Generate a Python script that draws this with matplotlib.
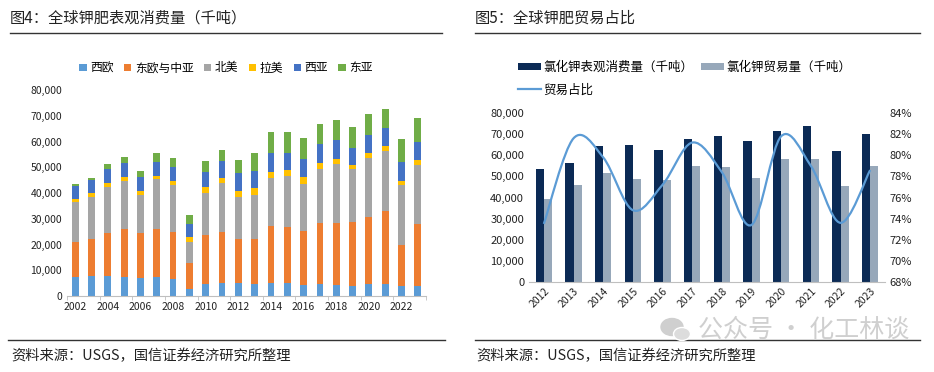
import numpy as np
import matplotlib
matplotlib.use("Agg")
import matplotlib.pyplot as plt
from matplotlib.path import Path
from matplotlib.patches import PathPatch, Ellipse
from matplotlib.lines import Line2D
from matplotlib.ticker import FuncFormatter

plt.rcParams['font.family'] = ['Noto Sans CJK SC', 'DejaVu Sans']
plt.rcParams['axes.unicode_minus'] = False

# ---------------- data: figure 4 ----------------
years4 = list(range(2002, 2024))
west_eu = [7260, 7770, 7770, 7250, 7120, 7250, 6470, 2720, 4790, 5050, 5050,
           4790, 5050, 5050, 4270, 4790, 4270, 4010, 4660, 4530, 4010, 4010]
east_eu = [13700, 14490, 16820, 18760, 17340, 18760, 18370, 10220, 18890, 19790, 17080,
           17210, 22250, 21870, 20960, 23550, 24070, 24590, 26010, 28470, 15660, 23940]
n_amer = [15500, 16170, 17720, 18630, 14750, 19280, 18380, 8020, 16300, 18900, 16300,
          17210, 18640, 19530, 18380, 20960, 22900, 20700, 22770, 23420, 23550, 22900]
lat_amer = [1200, 1430, 1430, 1430, 1550, 1290, 1420, 1940, 2330, 2070, 2330,
            2590, 2330, 2460, 2460, 2460, 1940, 1550, 1940, 1810, 1420, 1820]
west_as = [5000, 5300, 5560, 5560, 5310, 5570, 5440, 5050, 5960, 6600, 6990,
           6850, 7240, 6600, 7240, 7380, 7380, 6730, 7250, 7120, 7250, 7240]
east_as = [800, 780, 1940, 2330, 2460, 3230, 3490, 3490, 4140, 4270, 5050,
           6860, 8150, 8280, 8030, 7630, 7760, 8160, 7890, 7370, 9190, 9320]
regions = ['西欧', '东欧与中亚', '北美', '拉美', '西亚', '东亚']
colors4 = ['#5B9BD5', '#ED7D31', '#A5A5A5', '#FFC000', '#4472C4', '#70AD47']

# ---------------- data: figure 5 ----------------
years5 = list(range(2012, 2024))
consumption = [53450, 56280, 64290, 64770, 62250, 67600, 69330, 66650, 71370, 73730, 61780, 69950]
trade = [39300, 45900, 51400, 48570, 48260, 54700, 54230, 49050, 58160, 58160, 45590, 54860]
share = [73.5, 81.6, 79.8, 74.8, 77.2, 81.2, 78.4, 73.4, 81.8, 79.0, 73.6, 78.6]

fig = plt.figure(figsize=(9.34, 3.72), dpi=100)
txt = '#222222'
thous = FuncFormatter(lambda v, p: '{:,.0f}'.format(v))

# ---------------- header / footer ----------------
fig.text(10/934, 1-18/372, '图4：全球钾肥表观消费量（千吨）', fontsize=11, color=txt, va='center')
fig.text(475/934, 1-18/372, '图5：全球钾肥贸易占比', fontsize=11, color=txt, va='center')
fig.add_artist(Line2D([10/934, 442/934], [1-33/372]*2, color='#333333', lw=1))
fig.add_artist(Line2D([475/934, 920/934], [1-33/372]*2, color='#333333', lw=1))
fig.add_artist(Line2D([8/934, 445/934], [1-340/372]*2, color='#333333', lw=1))
fig.add_artist(Line2D([475/934, 920/934], [1-340/372]*2, color='#333333', lw=1))
fig.text(11/934, 1-356/372, '资料来源：USGS，国信证券经济研究所整理', fontsize=10.3, color=txt, va='center')
fig.text(476/934, 1-356/372, '资料来源：USGS，国信证券经济研究所整理', fontsize=10.3, color=txt, va='center')

# watermark
wm = '#cfcfcf'
fig.add_artist(Ellipse((672/934, 1-327/372), 22/934, 17/372, color=wm, zorder=5))
fig.add_artist(Ellipse((682/934, 1-334/372), 17/934, 13/372, color='#dcdcdc', ec='white', lw=1, zorder=6))
fig.text(698/934, 1-330/372, '公众号 · 化工林谈', fontsize=18, color=wm, va='center', zorder=6)

# ---------------- figure 4: stacked bars ----------------
ax = fig.add_axes([67/934, 1-296/372, 359/934, 206/372])
x4 = np.arange(len(years4))
bottom = np.zeros(len(years4))
for name, vals, c in zip(regions, [west_eu, east_eu, n_amer, lat_amer, west_as, east_as], colors4):
    ax.bar(x4, vals, width=0.42, bottom=bottom, color=c, label=name)
    bottom += np.array(vals)
ax.set_xlim(-0.5, len(years4) - 0.5)
ax.set_ylim(0, 80000)
ax.set_yticks(np.arange(0, 80001, 10000))
ax.yaxis.set_major_formatter(thous)
ax.set_xticks(x4[::2])
ax.set_xticklabels([str(y) for y in years4[::2]])
ax.set_xticks(np.arange(-0.5, len(years4), 2), minor=True)
ax.tick_params(axis='x', which='major', length=0, labelsize=7.5, colors=txt, pad=4)
ax.tick_params(axis='x', which='minor', length=3, color='#bfbfbf')
ax.tick_params(axis='y', length=0, labelsize=7.5, colors=txt)
for s in ['top', 'right', 'left']:
    ax.spines[s].set_visible(False)
ax.spines['bottom'].set_color('#bfbfbf')
fig.legend(*ax.get_legend_handles_labels(), loc='center', bbox_to_anchor=(226/934, 1-68/372),
           ncol=6, frameon=False, fontsize=8.5, handlelength=0.6, handleheight=0.6,
           handletextpad=0.3, columnspacing=0.9)

# ---------------- figure 5: bars + smooth line ----------------
bx = fig.add_axes([529/934, 1-282/372, 356/934, 169/372])
x5 = np.arange(len(years5))
w = 0.27
b1 = bx.bar(x5 - w/2, consumption, width=w, color='#0B2A55', label='氯化钾表观消费量（千吨）')
b2 = bx.bar(x5 + w/2, trade, width=w, color='#97A8BA', label='氯化钾贸易量（千吨）')
bx.set_xlim(-0.5, len(years5) - 0.5)
bx.set_ylim(0, 80000)
bx.set_yticks(np.arange(0, 80001, 10000))
bx.yaxis.set_major_formatter(thous)
bx.set_xticks(x5)
bx.set_xticklabels([str(y) for y in years5], rotation=45, ha='right', rotation_mode='anchor')
bx.tick_params(axis='x', length=0, labelsize=7.5, colors=txt, pad=3)
bx.tick_params(axis='y', length=0, labelsize=8, colors=txt)
for s in ['top', 'right', 'left']:
    bx.spines[s].set_visible(False)
bx.spines['bottom'].set_color('#bfbfbf')

rx = bx.twinx()
rx.set_ylim(68, 84)
rx.set_yticks(np.arange(68, 84.1, 2))
rx.yaxis.set_major_formatter(FuncFormatter(lambda v, p: '{:.0f}%'.format(v)))
rx.tick_params(axis='y', length=0, labelsize=8, colors=txt)
for s in rx.spines.values():
    s.set_visible(False)

# smoothed line (Catmull-Rom style bezier through the points)
pts = np.column_stack([x5, share]).astype(float)
ext = np.vstack([pts[0], pts, pts[-1]])
verts = [tuple(pts[0])]
codes = [Path.MOVETO]
for i in range(len(pts) - 1):
    p0, p1, p2, p3 = ext[i], ext[i+1], ext[i+2], ext[i+3]
    c1 = p1 + (p2 - p0) / 6.0
    c2 = p2 - (p3 - p1) / 6.0
    verts += [tuple(c1), tuple(c2), tuple(p2)]
    codes += [Path.CURVE4] * 3
rx.add_patch(PathPatch(Path(verts, codes), fill=False, edgecolor='#5B9BD5', lw=1.6))
line_h = Line2D([], [], color='#5B9BD5', lw=1.6, label='贸易占比')

fig.legend([b1, line_h, b2], ['氯化钾表观消费量（千吨）', '贸易占比', '氯化钾贸易量（千吨）'],
           loc='upper left', bbox_to_anchor=(518/934, 1-61/372), ncol=2, frameon=False,
           fontsize=9, handlelength=1.85, handleheight=0.5, handletextpad=0.2,
           columnspacing=0.6, labelspacing=0.75, borderaxespad=0, borderpad=0)

fig.savefig('out.png', dpi=100)
